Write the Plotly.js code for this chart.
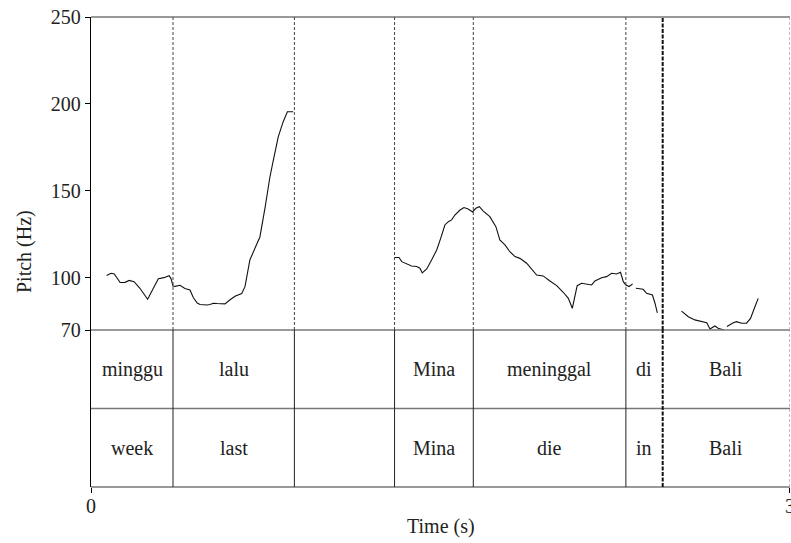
<!DOCTYPE html>
<html>
<head>
<meta charset="utf-8">
<script src="https://cdn.plot.ly/plotly-3.0.1.min.js"></script>
<style>html,body{margin:0;padding:0;background:#fff;}#chart{width:791px;height:543px;}</style>
</head>
<body>
<div id="chart"></div>
<script>
// Pitch contour segments (time in s, pitch in Hz)
const seg1Time = [0.067,0.086,0.100,0.125,0.146,0.164,0.185,0.210,0.243,0.264,0.289,0.313,0.335,0.343,0.352,0.361,0.382,0.403,0.425,0.439,0.456,0.468,0.482,0.497,0.511,0.525,0.541,0.561,0.575,0.597,0.618,0.647,0.661,0.682,0.704,0.725,0.747,0.768,0.783,0.804,0.825,0.843,0.868];
const seg1Hz   = [101.3,102.6,102.2,97.3,97.4,98.5,97.8,94.0,87.7,93.0,99.5,100.1,101.2,99.7,95.3,95.1,95.7,93.9,93.0,88.7,85.5,84.7,84.4,84.4,84.7,85.4,85.2,85.0,85.0,87.4,89.4,91.0,94.9,110.3,116.6,123.5,140.2,158.0,167.8,181.2,189.8,195.5,195.5];
const seg2Time = [1.303,1.322,1.334,1.355,1.376,1.398,1.412,1.422,1.441,1.462,1.484,1.501,1.519,1.534,1.548,1.562,1.584,1.601,1.619,1.638,1.652,1.667,1.684,1.712,1.738,1.755,1.777,1.798,1.820,1.841,1.870,1.913,1.941,1.970,1.999,2.027,2.049,2.066,2.077,2.087,2.106,2.128,2.149,2.163,2.192,2.213,2.235,2.256,2.273,2.285,2.296,2.310,2.325];
const seg2Hz   = [111.7,111.7,109.3,108.0,106.8,106.5,105.5,102.8,105.1,110.3,116.0,122.7,130.4,132.3,133.3,136.1,139.0,140.4,139.6,137.9,140.0,140.9,138.4,135.2,129.4,121.8,118.9,115.0,112.2,111.2,108.4,101.6,101.1,98.2,95.5,91.7,88.2,82.5,90.1,95.5,96.9,96.3,95.9,98.2,100.1,100.7,102.6,102.2,103.2,97.8,95.9,95.0,96.5];
const seg3Time = [2.339,2.370,2.385,2.410,2.421,2.431];
const seg3Hz   = [94.0,93.4,91.1,90.1,85.4,79.9];
const seg4Time = [2.535,2.564,2.592,2.621,2.643,2.657,2.678,2.692,2.717];
const seg4Hz   = [80.9,77.6,75.8,74.8,74.2,70.6,72.3,71.0,70.0];
const seg5Time = [2.730,2.757,2.771,2.793,2.814,2.831,2.850,2.864];
const seg5Hz   = [72.0,74.2,74.8,73.9,73.9,76.7,83.4,88.2];

// TextGrid tiers
const tierBounds  = [0, 0.352, 0.873, 1.303, 1.641, 2.296, 2.454, 3.0];
const wordLabels  = ["minggu","lalu","","Mina","meninggal","di","Bali"];
const glossLabels = ["week","last","","Mina","die","in","Bali"];

// Axis ticks
const pitchTicks = [70,100,150,200,250];
const timeTicks = [0,3];

const FONT = '"Liberation Serif", "Times New Roman", serif';
const FS = 20;
const TXT = '#222';
const GRAY = '#777';
const split = 157/470;

const segs = [[seg1Time,seg1Hz],[seg2Time,seg2Hz],[seg3Time,seg3Hz],[seg4Time,seg4Hz],[seg5Time,seg5Hz]];
const traces = segs.map(s => ({
  x: s[0], y: s[1], type: 'scatter', mode: 'lines',
  line: {color: '#111', width: 1.1}, xaxis: 'x', yaxis: 'y', hoverinfo: 'skip'
}));

const shapes = [];
// horizontal lines
[[1, 'paper'], [split, 'paper'], [1, 'y2'], [0, 'paper']].forEach(([y, ref]) => {
  shapes.push({type:'line', xref:'paper', x0:0, x1:1, yref:ref, y0:y, y1:y, line:{color:GRAY, width:1.6}});
});
// vertical boundaries
const inner = tierBounds.slice(1);
inner.forEach((b, i) => {
  const isLast = i === inner.length - 1;
  const isThick = i === inner.length - 2;
  let topLine, botLine;
  if (isLast) {
    topLine = {color:'#999', width:1, dash:'3px,2px'};
    botLine = {color:'#999', width:1, dash:'3px,2px'};
  } else if (isThick) {
    topLine = {color:'#111', width:2, dash:'4px,1.5px'};
    botLine = {color:'#111', width:2, dash:'4px,1.5px'};
  } else {
    topLine = {color:'#444', width:1, dash:'3px,2px'};
    botLine = {color:'#222', width:1};
  }
  shapes.push({type:'line', xref:'x', x0:b, x1:b, yref:'paper', y0:split, y1:1, line:topLine});
  shapes.push({type:'line', xref:'x', x0:b, x1:b, yref:'paper', y0:0, y1:split, line:botLine});
});

const annotations = [];
for (let i = 0; i < wordLabels.length; i++) {
  const mid = (tierBounds[i] + tierBounds[i+1]) / 2;
  if (wordLabels[i]) annotations.push({x:mid, xref:'x', y:1.5, yref:'y2', text:wordLabels[i], showarrow:false, font:{family:FONT, size:FS, color:TXT}});
  if (glossLabels[i]) annotations.push({x:mid, xref:'x', y:0.5, yref:'y2', text:glossLabels[i], showarrow:false, font:{family:FONT, size:FS, color:TXT}});
}
annotations.push({x:0, xref:'paper', xanchor:'center', xshift:-67, y:0.5, yref:'paper', yanchor:'middle', text:'Pitch (Hz)', textangle:-90, showarrow:false, font:{family:FONT, size:FS, color:TXT}});
annotations.push({x:0.5, xref:'paper', xanchor:'center', y:0, yref:'paper', yanchor:'middle', yshift:-39, text:'Time (s)', showarrow:false, font:{family:FONT, size:FS, color:TXT}});

const layout = {
  width: 791, height: 543,
  margin: {l:91, r:1, t:17, b:56, pad:0},
  paper_bgcolor: '#fff', plot_bgcolor: '#fff',
  showlegend: false,
  font: {family: FONT, size: FS, color: TXT},
  xaxis: {range:[0,3.0005], anchor:'y2', tickvals:timeTicks, ticktext:timeTicks.map(String), ticks:'outside', ticklen:5, tickcolor:'#000', tickwidth:1,
          ticklabelstandoff:-4, ticklabeloverflow:'allow',
          showline:false, showgrid:false, zeroline:false, tickfont:{family:FONT, size:FS, color:TXT}, fixedrange:true},
  yaxis: {range:[70,250], domain:[split,1], tickvals:pitchTicks, ticktext:pitchTicks.map(String), ticks:'outside', ticklen:5, tickcolor:'#000', tickwidth:1,
          showline:true, linecolor:'#000', linewidth:1.2, showgrid:false, zeroline:false, tickfont:{family:FONT, size:FS, color:TXT}, fixedrange:true},
  yaxis2: {range:[0,2], domain:[0,split], showticklabels:false, ticks:'', showline:true, linecolor:'#000', linewidth:1.2, showgrid:false, zeroline:false, fixedrange:true},
  shapes: shapes,
  annotations: annotations
};

Plotly.newPlot('chart', traces, layout, {staticPlot:true, displayModeBar:false});
</script>
</body>
</html>
